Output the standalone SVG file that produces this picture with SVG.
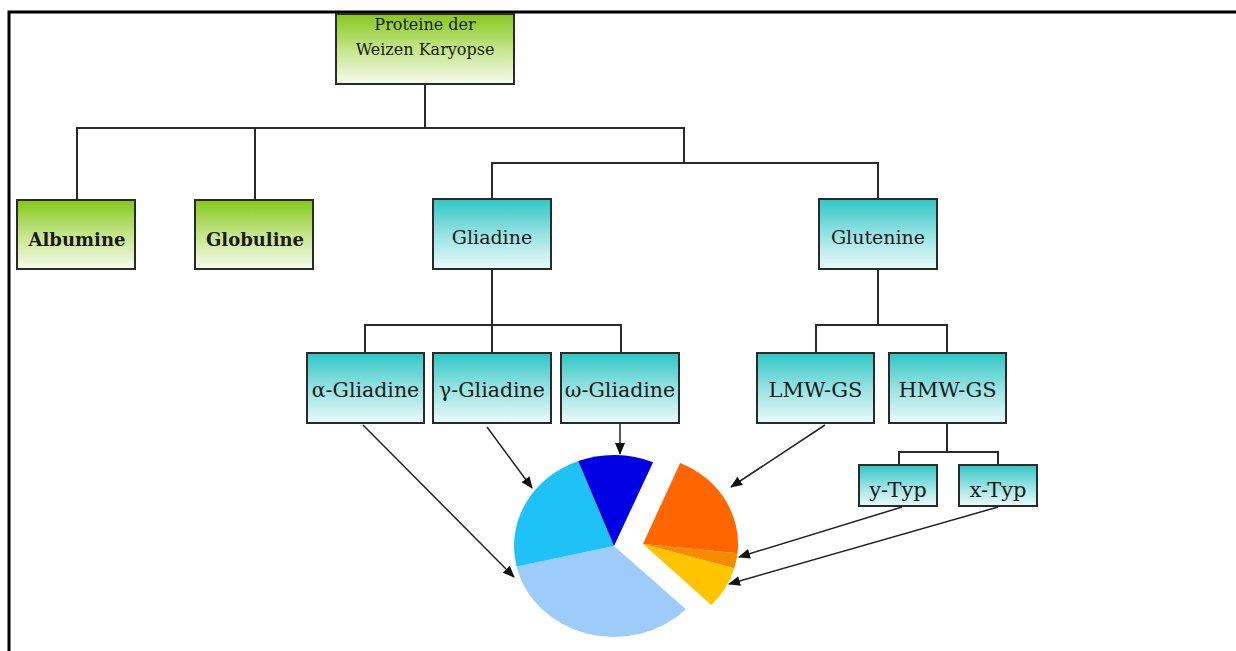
<svg xmlns="http://www.w3.org/2000/svg" width="1236" height="651" viewBox="0 0 1236 651">
<defs>
<linearGradient id="gGreen" x1="0" y1="0" x2="0" y2="1">
<stop offset="0" stop-color="#84c81a"/>
<stop offset="0.5" stop-color="#c4e58a"/>
<stop offset="1" stop-color="#f6fbec"/>
</linearGradient>
<linearGradient id="gTeal" x1="0" y1="0" x2="0" y2="1">
<stop offset="0" stop-color="#2ec6c4"/>
<stop offset="0.5" stop-color="#96e2e2"/>
<stop offset="1" stop-color="#eafafa"/>
</linearGradient>
<marker id="ah" viewBox="0 0 12 10" refX="11" refY="5" markerWidth="12" markerHeight="10" markerUnits="userSpaceOnUse" orient="auto">
<path d="M0,0 L12,5 L0,10 Z" fill="#111"/>
</marker>
<style>
.green{fill:url(#gGreen);stroke:#2a2a2a;stroke-width:2}
.teal{fill:url(#gTeal);stroke:#2a2a2a;stroke-width:2}
.lbl{font-family:"DejaVu Serif",serif;fill:#1a1a1a;text-anchor:middle}
.b{font-weight:bold;font-size:18px}
.t{font-size:19px}
.g{font-size:20.5px}
.s{font-size:21px}
.conn{fill:none;stroke:#2a2a2a;stroke-width:2}
.arr{fill:none;stroke:#222;stroke-width:1.5;marker-end:url(#ah)}
</style>
</defs>
<rect width="1236" height="651" fill="#fff"/>
<path d="M9,651 L9,12 L1236,12" fill="none" stroke="#000" stroke-width="3"/>

<g id="connectors">
<path class="conn" d="M425,84 L425,128 M77,200 L77,128 L684,128 L684,163 M255,128 L255,200 M492,199 L492,163 L878,163 L878,199"/>
<path class="conn" d="M492,269 L492,353 M365,353 L365,325 L621,325 L621,353"/>
<path class="conn" d="M878,269 L878,325 M816,353 L816,325 L947,325 L947,353"/>
<path class="conn" d="M947,423 L947,452 M899,465 L899,452 L998,452 L998,465"/>
<path class="arr" d="M363,425 L514,577"/>
<path class="arr" d="M487,427 L532,488"/>
<path class="arr" d="M620,423 L620,454"/>
<path class="arr" d="M825,425 L731,487"/>
<path class="arr" d="M902,507 L739,557"/>
<path class="arr" d="M998,507 L729,584"/>
</g>

<g id="n-root">
<rect class="green" x="336" y="14" width="178" height="70"/>
<text class="lbl" x="425" y="30" font-size="16">Proteine der</text>
<text class="lbl" x="425" y="55" font-size="16">Weizen Karyopse</text>
</g>
<g id="n-albumine">
<rect class="green" x="17" y="200" width="118" height="69"/>
<text class="lbl b" x="77" y="246">Albumine</text>
</g>
<g id="n-globuline">
<rect class="green" x="195" y="200" width="118" height="69"/>
<text class="lbl b" x="255" y="246">Globuline</text>
</g>
<g id="n-gliadine">
<rect class="teal" x="433" y="199" width="118" height="70"/>
<text class="lbl t" x="492" y="244">Gliadine</text>
</g>
<g id="n-glutenine">
<rect class="teal" x="819" y="199" width="118" height="70"/>
<text class="lbl t" x="878" y="244">Glutenine</text>
</g>
<g id="n-alpha">
<rect class="teal" x="307" y="353" width="117" height="70"/>
<text class="lbl g" x="365.5" y="397">α-Gliadine</text>
</g>
<g id="n-gamma">
<rect class="teal" x="433" y="353" width="118" height="70"/>
<text class="lbl g" x="492" y="397">γ-Gliadine</text>
</g>
<g id="n-omega">
<rect class="teal" x="561" y="353" width="118" height="70"/>
<text class="lbl g" x="620" y="397">ω-Gliadine</text>
</g>
<g id="n-lmw">
<rect class="teal" x="757" y="353" width="117" height="70"/>
<text class="lbl s" x="815.5" y="397">LMW-GS</text>
</g>
<g id="n-hmw">
<rect class="teal" x="889" y="353" width="117" height="70"/>
<text class="lbl s" x="947.5" y="397">HMW-GS</text>
</g>
<g id="n-ytyp">
<rect class="teal" x="859" y="465" width="78" height="41"/>
<text class="lbl s" x="898" y="497">y-Typ</text>
</g>
<g id="n-xtyp">
<rect class="teal" x="959" y="465" width="78" height="41"/>
<text class="lbl s" x="998" y="497">x-Typ</text>
</g>

<g id="pie">
<path d="M614,546 L685.9,609.2 A100,91 0 0,1 516.6,566.5 Z" fill="#9dcbfa"/>
<path d="M614,546 L516.6,566.5 A100,91 0 0,1 578.2,461 Z" fill="#1ec2f6"/>
<path d="M614,546 L578.2,461 A100,91 0 0,1 653.1,462.2 Z" fill="#0000e2"/>
<path d="M643,544 L680.1,463 A95,88 0 0,1 737.5,553.2 Z" fill="#ff6600"/>
<path d="M643,544 L737.5,553.2 A95,88 0 0,1 734.3,568.3 Z" fill="#f88a00"/>
<path d="M643,544 L734.3,568.3 A95,88 0 0,1 711.3,605.1 Z" fill="#ffc400"/>
</g>
</svg>
